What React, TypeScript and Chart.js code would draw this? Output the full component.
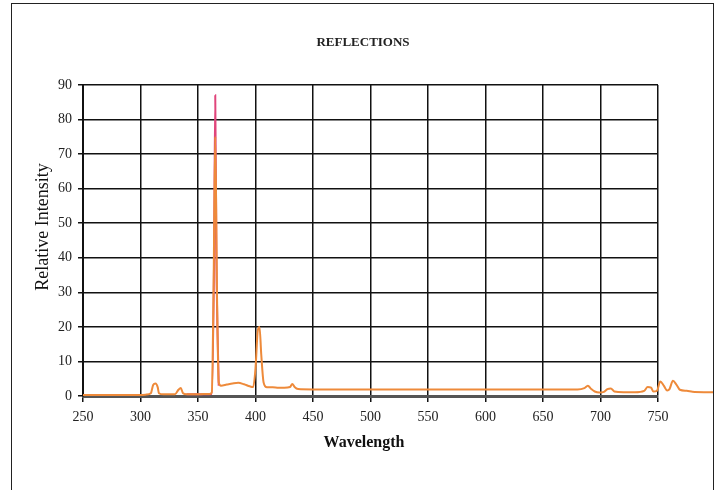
import { useEffect, useRef } from "react";
import { Chart, registerables } from "chart.js";

Chart.register(...registerables);

// Main spectrum (orange)
const wavelengths = [
  250, 260, 280, 300, 305, 309, 311, 313, 315, 316, 320, 330, 333, 335, 337, 340,
  350, 360, 362, 363.5, 365, 366.5, 368, 370, 375, 380, 385, 390, 395, 398,
  400, 402, 403.5, 405, 407, 410, 415, 420, 425, 430, 432, 434, 437,
  450, 500, 550, 600, 650, 680, 686, 689, 692, 695, 699, 703, 706, 709, 712,
  720, 730, 738, 741, 744, 746, 749, 752, 755, 758, 760, 763, 766, 769, 775, 780, 790, 798,
];
const intensity = [
  0.3, 0.3, 0.3, 0.3, 0.4, 0.8, 3.2, 3.6, 2.5, 0.8, 0.5, 0.5, 1.8, 2.3, 0.8, 0.5,
  0.5, 0.6, 1, 30, 75, 30, 4, 3, 3.3, 3.6, 3.8, 3.4, 2.8, 2.6,
  8, 19, 20, 12, 4, 2.5, 2.5, 2.4, 2.4, 2.6, 3.5, 2.6, 2.0,
  1.9, 1.9, 1.9, 1.9, 1.9, 1.9, 2.3, 3.0, 2.0, 1.3, 1.0, 1.2, 2.0, 2.2, 1.3,
  1.1, 1.1, 1.5, 2.6, 2.4, 1.3, 1.5, 4.2, 3.0, 1.6, 2.0, 4.4, 3.3, 1.8, 1.5, 1.2, 1.1, 1.1,
];

// Secondary trace (pink) visible at the top of the main peak
const peakWavelengths = [340, 350, 362, 364, 365, 366, 368];
const peakIntensity = [0.5, 0.5, 0.6, 40, 87, 40, 3];

const xTickValues = [250, 300, 350, 400, 450, 500, 550, 600, 650, 700, 750];
const yTickValues = [0, 10, 20, 30, 40, 50, 60, 70, 80, 90];

const chartTitle = "REFLECTIONS";
const xTitle = "Wavelength";
const yTitle = "Relative Intensity";

const SERIF = '"Liberation Serif", "DejaVu Serif", serif';

const textPlugin = {
  id: "textCustom",
  afterDraw(chart: any) {
    const { ctx, chartArea } = chart;
    ctx.save();
    ctx.textAlign = "center";
    ctx.textBaseline = "middle";
    // chart title
    ctx.font = `bold 13px ${SERIF}`;
    ctx.fillStyle = "#222";
    ctx.fillText(chartTitle, chartArea.left + 280, chartArea.top - 42);
    // x axis title
    ctx.font = `bold 16px ${SERIF}`;
    ctx.fillStyle = "#111";
    ctx.fillText(xTitle, chartArea.left + 281, chartArea.bottom + 47);
    // y axis title
    ctx.translate(chartArea.left - 40, chartArea.top + 142);
    ctx.rotate(-Math.PI / 2);
    ctx.font = `18px ${SERIF}`;
    ctx.fillStyle = "#111";
    ctx.fillText(yTitle, 0, 0);
    ctx.restore();
  },
};

export default function App() {
  const ref = useRef<HTMLCanvasElement | null>(null);

  useEffect(() => {
    if (!ref.current) return;
    const chart = new Chart(ref.current, {
      type: "line",
      data: {
        datasets: [
          {
            label: "Reflections",
            data: wavelengths.map((x, i) => ({ x, y: intensity[i] })),
            borderColor: "#EE8A3A",
            borderWidth: 2,
            pointRadius: 0,
            cubicInterpolationMode: "monotone",
            clip: false as any,
          },
          {
            label: "Peak",
            data: peakWavelengths.map((x, i) => ({ x, y: peakIntensity[i] })),
            borderColor: "#E0457B",
            borderWidth: 2,
            pointRadius: 0,
            cubicInterpolationMode: "monotone",
            clip: false as any,
          },
        ],
      },
      options: {
        animation: false,
        responsive: false,
        layout: { padding: { left: 0, right: 61, top: 85, bottom: 0 } },
        plugins: {
          legend: { display: false },
          tooltip: { enabled: false },
          title: { display: false },
        },
        scales: {
          x: {
            type: "linear",
            afterDataLimits: (s: any) => {
              s.min = xTickValues[0];
              s.max = xTickValues[xTickValues.length - 1];
            },
            afterFit: (s: any) => {
              s.height = 94;
            },
            afterBuildTicks: (s: any) => {
              s.ticks = xTickValues.map((v) => ({ value: v }));
            },
            ticks: {
              stepSize: 50,
              color: "#222",
              font: { family: SERIF, size: 14 },
              padding: 7,
              maxRotation: 0,
            },
            grid: { color: "#111", lineWidth: 1.5, tickLength: 6 },
            border: { color: "#555", width: 3 },
          },
          y: {
            type: "linear",
            min: 0,
            max: 90,
            afterFit: (s: any) => {
              s.width = 83;
            },
            afterBuildTicks: (s: any) => {
              s.ticks = yTickValues.map((v) => ({ value: v }));
            },
            ticks: {
              stepSize: 10,
              color: "#222",
              font: { family: SERIF, size: 14 },
              padding: 6,
            },
            grid: { color: "#111", lineWidth: 1.5, tickLength: 5 },
            border: { color: "#111", width: 2 },
          },
        },
      },
      plugins: [textPlugin],
    });
    return () => chart.destroy();
  }, []);

  return (
    <div style={{ position: "fixed", left: 0, top: 0, width: 719, height: 490, background: "#fff", overflow: "hidden" }}>
      <canvas ref={ref} width={719} height={490} style={{ position: "absolute", left: 0, top: 0 }} />
      <div
        style={{
          position: "absolute",
          left: 11,
          top: 3,
          width: 703,
          height: 600,
          border: "1px solid #222",
          boxSizing: "border-box",
          pointerEvents: "none",
        }}
      />
    </div>
  );
}
